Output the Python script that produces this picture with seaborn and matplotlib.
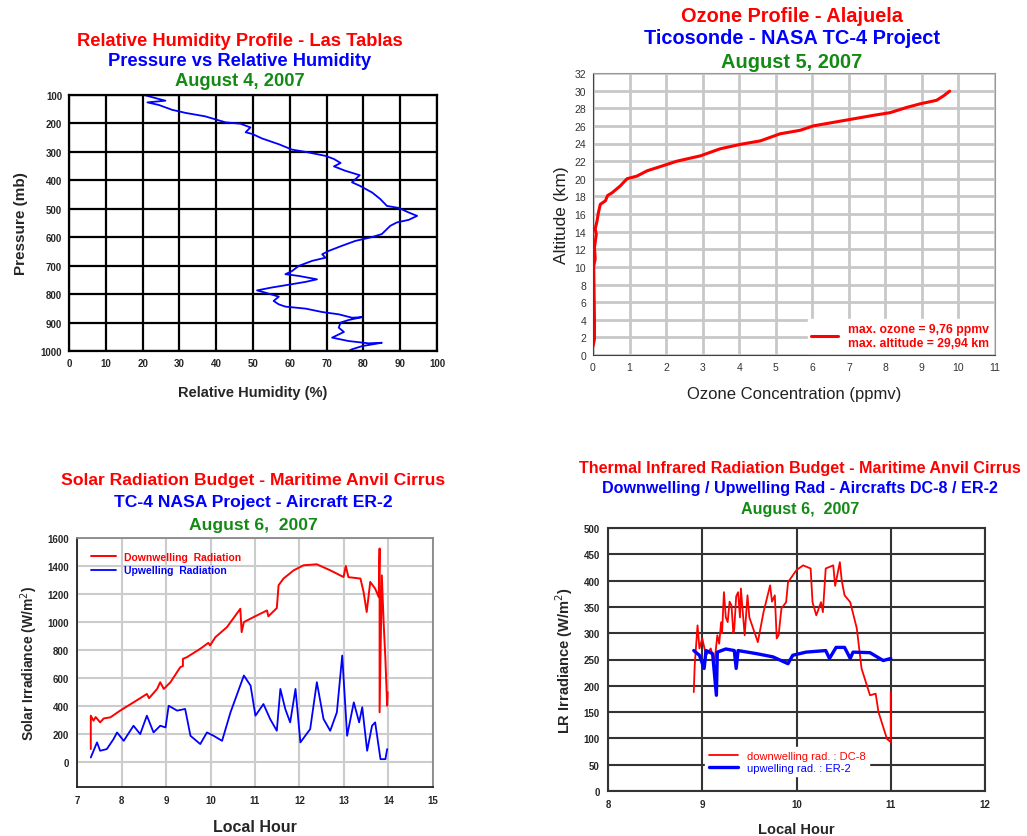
import matplotlib
matplotlib.use('Agg')
import numpy as np
import pandas as pd
import matplotlib.pyplot as plt
import seaborn as sns

sns.set_style('white')
plt.rcParams['font.family'] = ['Liberation Sans', 'DejaVu Sans']

RED = '#ff0000'
BLUE = '#0000ff'
GREEN = '#138a13'

# ---- panel 1: relative humidity profile (Las Tablas, Aug 4)
rh = [20.4, 24.4, 26.2, 21.3, 24.4, 28.0, 31.7, 37.0, 42.5, 46.6, 49.3, 48.0, 49.8,
      52.5, 57.0, 60.6, 64.3, 69.7, 72.0, 73.8, 72.0, 75.0, 79.0, 76.9, 79.0, 82.4,
      84.6, 86.4, 89.6, 92.3, 94.6, 92.3, 89.1, 87.3, 85.0, 81.9, 77.8, 74.2, 70.6,
      68.8, 69.7, 66.1, 62.4, 60.6, 58.8, 62.4, 67.4, 64.3, 60.6, 55.0, 51.1, 53.4,
      57.0, 55.6, 57.0, 58.8, 64.3, 68.8, 73.3, 76.9, 79.6, 76.0, 73.8, 73.3, 74.7,
      71.5, 76.0, 81.4, 85.0, 79.6, 76.9, 76.0]
pressure = [100, 114, 120, 126, 135, 152, 163, 175, 196, 201, 214, 231, 237,
            253, 273, 292, 300, 314, 325, 339, 351, 366, 382, 407, 419, 443,
            466, 490, 497, 513, 525, 539, 548, 560, 589, 601, 613, 630, 648,
            660, 672, 683, 701, 719, 730, 736, 748, 757, 765, 777, 787, 795,
            809, 824, 836, 844, 851, 863, 871, 883, 881, 891, 900, 918, 933,
            953, 965, 973, 971, 983, 994, 1000]

# ---- panel 2: ozone profile (Alajuela, Aug 5)
ozone = [0.0, 0.04, 0.04, 0.02, 0.06, 0.04, 0.09, 0.06, 0.11, 0.15, 0.2, 0.34, 0.4,
         0.52, 0.75, 0.93, 1.2, 1.48, 1.93, 2.3, 2.94, 3.48, 4.03, 4.58, 5.12, 5.67,
         6.03, 6.58, 7.13, 7.68, 8.13, 8.59, 8.95, 9.4, 9.59, 9.76]
altitude = [1.0, 1.8, 4.0, 10.1, 10.9, 12.2, 13.7, 14.3, 15.2, 16.2, 17.1, 17.5, 18.1,
            18.4, 19.2, 20.0, 20.3, 20.9, 21.5, 22.0, 22.6, 23.4, 23.9, 24.3, 25.1, 25.5,
            26.0, 26.4, 26.8, 27.2, 27.5, 28.1, 28.5, 28.9, 29.4, 29.94]

# ---- panel 3: solar radiation budget (ER-2, Aug 6)
sw_down_hour = [7.31, 7.31, 7.37, 7.42, 7.52, 7.6, 7.75, 7.97, 8.27, 8.57, 8.62, 8.8,
                8.87, 8.95, 9.1, 9.32, 9.38, 9.38, 9.47, 9.77, 9.95, 9.99, 10.11,
                10.37, 10.67, 10.7, 10.75, 10.97, 11.27, 11.3, 11.49, 11.53, 11.64,
                11.87, 12.09, 12.39, 12.69, 12.99, 13.04, 13.1, 13.37, 13.44, 13.51,
                13.59, 13.7, 13.78, 13.8, 13.8, 13.85, 13.89, 13.93, 13.97, 13.98]
sw_down = [91, 330, 294, 320, 282, 310, 318, 366, 425, 485, 455, 521,
           569, 521, 569, 676, 685, 736, 748, 808, 850, 832, 891,
           963, 1094, 927, 999, 1035, 1082, 1040, 1099, 1262, 1310,
           1369, 1405, 1412, 1369, 1321, 1400, 1320, 1310, 1214, 1071,
           1286, 1238, 1178, 1525, 354, 1333, 999, 736, 401, 497]
sw_up_hour = [7.31, 7.45, 7.52, 7.67, 7.82, 7.9, 8.05, 8.27, 8.42, 8.57, 8.72, 8.87,
              8.99, 9.06, 9.25, 9.43, 9.55, 9.77, 9.92, 10.07, 10.26, 10.45, 10.75,
              10.9, 11.01, 11.19, 11.34, 11.49, 11.57, 11.68, 11.79, 11.91, 12.02,
              12.24, 12.39, 12.54, 12.69, 12.84, 12.96, 13.07, 13.22, 13.34, 13.41,
              13.52, 13.63, 13.7, 13.82, 13.93, 13.97]
sw_up = [31, 139, 79, 91, 162, 210, 150, 258, 198, 330, 210, 258,
         246, 401, 366, 378, 186, 127, 210, 186, 150, 354, 617,
         545, 330, 413, 306, 222, 521, 378, 282, 521, 139,
         234, 569, 306, 222, 354, 760, 186, 425, 282, 390,
         79, 258, 282, 19, 19, 91]

# ---- panel 4: thermal infrared radiation budget (DC-8 / ER-2, Aug 6)
lw_down_hour = [8.91, 8.92, 8.95, 8.97, 9.0, 9.04, 9.09, 9.13, 9.16, 9.18, 9.2, 9.21,
                9.23, 9.25, 9.27, 9.29, 9.31, 9.33, 9.34, 9.36, 9.38, 9.4, 9.41, 9.43,
                9.45, 9.48, 9.5, 9.54, 9.59, 9.65, 9.72, 9.74, 9.77, 9.79, 9.81, 9.84,
                9.89, 9.91, 10.0, 10.07, 10.15, 10.17, 10.21, 10.26, 10.28, 10.31,
                10.39, 10.41, 10.46, 10.48, 10.51, 10.57, 10.64, 10.69, 10.78, 10.84,
                10.87, 10.96, 11.0, 11.0]
lw_down = [188, 239, 315, 271, 290, 258, 271, 245, 296, 280, 321, 300,
           378, 330, 321, 360, 353, 300, 309, 370, 378, 330, 385, 340,
           296, 372, 330, 309, 283, 340, 391, 360, 372, 290, 296, 347,
           359, 397, 420, 429, 423, 359, 334, 359, 340, 423,
           429, 390, 435, 400, 372, 359, 309, 233, 182, 185,
           150, 99, 93, 188]
lw_up_hour = [8.91, 8.97, 9.02, 9.04, 9.11, 9.15, 9.16, 9.25, 9.34, 9.36, 9.38, 9.58,
              9.75, 9.91, 9.96, 10.1, 10.31, 10.35, 10.42, 10.51, 10.57, 10.6, 10.78,
              10.92, 11.0]
lw_up = [267, 258, 233, 267, 261, 182, 264, 270, 267, 233, 267, 261,
         255, 242, 258, 264, 267, 252, 273, 273, 252, 264, 263,
         248, 252]

W, H = 1027, 837
fig = plt.figure(figsize=(W / 100, H / 100), dpi=100)


def box(l, r, t, b):
    return [l / W, 1 - b / H, (r - l) / W, (b - t) / H]


def titles(x, ys, lines, size):
    for y, (txt, col) in zip(ys, lines):
        fig.text(x / W, 1 - y / H, txt, color=col, fontsize=size, fontweight='bold',
                 ha='center', va='center')


# ================= panel 1
ax1 = fig.add_axes(box(69, 437, 96, 352))
df1 = pd.DataFrame({'rh': rh, 'p': pressure})
sns.lineplot(data=df1, x='rh', y='p', sort=False, estimator=None, color=BLUE,
             lw=1.3, ax=ax1)
ax1.set_xlim(0, 100)
ax1.set_ylim(1000, 100)
ax1.set_xticks(range(0, 101, 10))
ax1.set_yticks(range(100, 1001, 100))
ax1.grid(True, color='black', lw=1.6)
for s in ax1.spines.values():
    s.set_color('black')
    s.set_linewidth(1.6)
ax1.tick_params(direction='out', length=3, width=1.2, labelsize=7, pad=2)
for lab in ax1.get_xticklabels() + ax1.get_yticklabels():
    lab.set_fontweight('bold')
ax1.set_xlabel('Relative Humidity (%)', fontsize=10.5, fontweight='bold', labelpad=12)
ax1.set_ylabel('Pressure (mb)', fontsize=11, fontweight='bold', labelpad=9)
titles(240, [41, 62, 82],
       [('Relative Humidity Profile - Las Tablas', RED),
        ('Pressure vs Relative Humidity', BLUE),
        ('August 4, 2007', GREEN)], 13.2)

# ================= panel 2
ax2 = fig.add_axes(box(593, 995, 74, 356))
df2 = pd.DataFrame({'o3': ozone, 'alt': altitude})
sns.lineplot(data=df2, x='o3', y='alt', sort=False, estimator=None, color=RED,
             lw=2.2, ax=ax2,
             label='max. ozone = 9,76 ppmv\nmax. altitude = 29,94 km')
ax2.set_xlim(0, 11)
ax2.set_ylim(0, 32)
ax2.set_xticks(range(0, 12))
ax2.set_yticks(range(0, 33, 2))
ax2.grid(True, color='#c8c8c8', lw=2)
ax2.spines['left'].set_color('#444444')
ax2.spines['bottom'].set_color('#444444')
ax2.spines['top'].set_color('#999999')
ax2.spines['right'].set_color('#999999')
ax2.tick_params(direction='out', length=3, labelsize=7.5, labelcolor='#333333',
                color='#444444', pad=2)
ax2.set_xlabel('Ozone Concentration (ppmv)', fontsize=12, color='#222222', labelpad=10)
ax2.set_ylabel('Altitude (km)', fontsize=12.5, color='#222222', labelpad=4)
leg2 = ax2.legend(loc='lower right', fontsize=8.8, frameon=True, fancybox=False,
                  edgecolor='white', facecolor='white', framealpha=1,
                  handlelength=2.2, borderaxespad=0.2, borderpad=0.3)
for t in leg2.get_texts():
    t.set_color(RED)
    t.set_fontweight('bold')
titles(792, [17, 39, 62],
       [('Ozone Profile - Alajuela', RED),
        ('Ticosonde - NASA TC-4 Project', BLUE),
        ('August 5, 2007', GREEN)], 14.4)

# ================= panel 3
ax3 = fig.add_axes(box(77, 433, 539, 788))
df3d = pd.DataFrame({'h': sw_down_hour, 'v': sw_down})
df3u = pd.DataFrame({'h': sw_up_hour, 'v': sw_up})
sns.lineplot(data=df3d, x='h', y='v', sort=False, estimator=None, color=RED,
             lw=1.4, ax=ax3, label='Downwelling  Radiation')
sns.lineplot(data=df3u, x='h', y='v', sort=False, estimator=None, color=BLUE,
             lw=1.3, ax=ax3, label='Upwelling  Radiation')
ax3.set_xlim(7, 15)
ax3.set_ylim(-180, 1600)
ax3.set_xticks(range(7, 16))
ax3.set_yticks(range(0, 1601, 200))
ax3.grid(True, color='#cccccc', lw=1.5)
ax3.spines['left'].set_color('#222222')
ax3.spines['bottom'].set_color('#222222')
ax3.spines['top'].set_color('#888888')
ax3.spines['right'].set_color('#888888')
for s in ax3.spines.values():
    s.set_linewidth(1.3)
ax3.tick_params(direction='out', length=3, labelsize=7, pad=3)
for lab in ax3.get_xticklabels() + ax3.get_yticklabels():
    lab.set_fontweight('bold')
ax3.set_xlabel('Local Hour', fontsize=11.5, fontweight='bold', labelpad=10)
ax3.set_ylabel('Solar Irradiance (W/m$^2$)', fontsize=10, fontweight='bold', labelpad=5)
leg3 = ax3.legend(loc='upper left', fontsize=7.5, frameon=False, handlelength=2.4,
                  borderaxespad=0.9, labelspacing=0.35, handletextpad=0.8)
for t, c in zip(leg3.get_texts(), [RED, BLUE]):
    t.set_color(c)
    t.set_fontweight('bold')
titles(253, [481, 503, 526],
       [('Solar Radiation Budget - Maritime Anvil Cirrus', RED),
        ('TC-4 NASA Project - Aircraft ER-2', BLUE),
        ('August 6,  2007', GREEN)], 12.6)

# ================= panel 4
ax4 = fig.add_axes(box(608, 985, 529, 792))
df4d = pd.DataFrame({'h': lw_down_hour, 'v': lw_down})
df4u = pd.DataFrame({'h': lw_up_hour, 'v': lw_up})
sns.lineplot(data=df4d, x='h', y='v', sort=False, estimator=None, color=RED,
             lw=1.3, ax=ax4, label='downwelling rad. : DC-8')
sns.lineplot(data=df4u, x='h', y='v', sort=False, estimator=None, color=BLUE,
             lw=2.4, ax=ax4, label='upwelling rad. : ER-2')
ax4.set_xlim(8, 12)
ax4.set_ylim(0, 500)
ax4.set_xticks(range(8, 13))
ax4.set_yticks(range(0, 501, 50))
ax4.grid(True, color='#333333', lw=1.5)
for s in ax4.spines.values():
    s.set_color('#333333')
    s.set_linewidth(1.5)
ax4.tick_params(direction='out', length=3, labelsize=7, pad=3)
for lab in ax4.get_xticklabels() + ax4.get_yticklabels():
    lab.set_fontweight('bold')
ax4.set_xlabel('Local Hour', fontsize=10.5, fontweight='bold', labelpad=9)
ax4.set_ylabel('LR Irradiance (W/m$^2$)', fontsize=10.5, fontweight='bold', labelpad=6)
leg4 = ax4.legend(loc='lower center', bbox_to_anchor=(0.475, 0.035), fontsize=8,
                  frameon=True, fancybox=False, edgecolor='white', facecolor='white',
                  framealpha=1, handlelength=2.6, borderpad=0.3, labelspacing=0.2)
for t, c in zip(leg4.get_texts(), [RED, BLUE]):
    t.set_color(c)
titles(800, [469, 489, 510],
       [('Thermal Infrared Radiation Budget - Maritime Anvil Cirrus', RED),
        ('Downwelling / Upwelling Rad - Aircrafts DC-8 / ER-2', BLUE),
        ('August 6,  2007', GREEN)], 11.6)

fig.savefig('out.png', dpi=100)
